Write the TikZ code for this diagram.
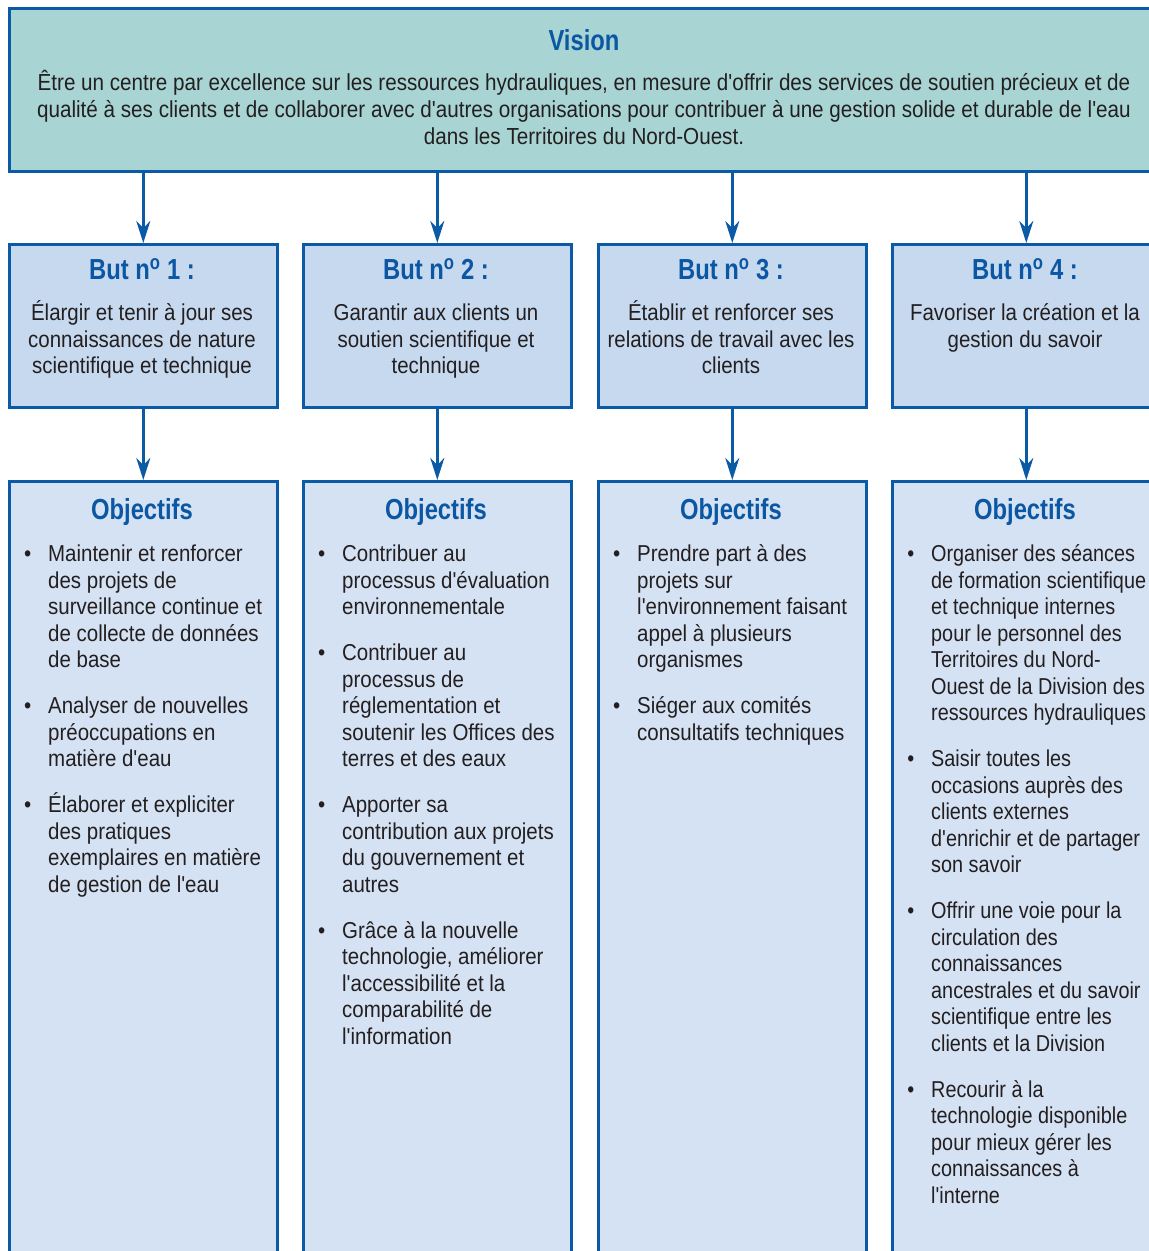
\documentclass[tikz,border=0pt]{standalone}
\usepackage{fontspec}
\setmainfont{Liberation Sans}[Ligatures=TeXOff, FakeStretch=0.89]
\newfontfamily\narrowfont{Liberation Sans}[Ligatures=TeXOff, FakeStretch=0.862]
\newfontfamily\titlefont{Liberation Sans}[UprightFont=* Bold, FakeStretch=0.82]
\usetikzlibrary{arrows.meta}
\definecolor{bordblue}{HTML}{0B5AA6}
\definecolor{titleblue}{HTML}{0B57A3}
\definecolor{txt}{HTML}{231F20}
\definecolor{visfill}{HTML}{A8D4D4}
\definecolor{goalfill}{HTML}{C6D9EF}
\definecolor{objfill}{HTML}{D5E2F3}
\newcommand{\bul}{\llap{\textbullet\hspace{17pt}}}
\newcommand{\fl}{\rule{0pt}{22pt}}
\begin{document}
\begin{tikzpicture}[x=1pt,y=-1pt,
  frame/.style={draw=bordblue, line width=2.6pt, rectangle, anchor=north west, inner sep=0pt},
  goalbox/.style={frame, fill=goalfill, minimum width=268pt, minimum height=163pt},
  objbox/.style={frame, fill=objfill, minimum width=268pt, minimum height=820pt},
  ttl/.style={anchor=base, inner sep=0pt, text=titleblue, font=\titlefont\fontsize{29pt}{32pt}\selectfont},
  body/.style={anchor=north, inner sep=0pt, align=center, text=txt,
    font=\fontsize{23pt}{26.5pt}\selectfont},
  items/.style={anchor=north west, inner sep=0pt, align=left, text=txt,
    font=\fontsize{23pt}{26.5pt}\selectfont},
  arr/.style={draw=bordblue, line width=2.4pt, -{Stealth[length=22pt,width=14pt,inset=7pt]}}
]
\useasboundingbox (0,0) rectangle (1149,1251);
\clip (0,0) rectangle (1149,1251);

% Vision
\node[frame, fill=visfill, minimum width=1152pt, minimum height=163pt] (vision) at (8,7) {};
\node[ttl] (visT) at (584,50) {Vision};
\node[body, font=\fontsize{23.2pt}{27pt}\selectfont] (visB) at (584,68) {\fl Être un centre par excellence sur les ressources hydrauliques, en mesure d'offrir des services de soutien précieux et de\\qualité à ses clients et de collaborer avec d'autres organisations pour contribuer à une gestion solide et durable de l'eau\\dans les Territoires du Nord-Ouest.};

% Goals
\node[goalbox] (g1) at (8,243) {};
\node[goalbox] (g2) at (302,243) {};
\node[goalbox] (g3) at (597,243) {};
\node[goalbox] (g4) at (891,243) {};

\node[ttl] (g1T) at (142,279) {But n\textsuperscript{o} 1 :};
\node[ttl] (g2T) at (436,279) {But n\textsuperscript{o} 2 :};
\node[ttl] (g3T) at (731,279) {But n\textsuperscript{o} 3 :};
\node[ttl] (g4T) at (1025,279) {But n\textsuperscript{o} 4 :};

\node[body] (g1B) at (142,298.5) {\fl Élargir et tenir à jour ses\\connaissances de nature\\scientifique et technique};
\node[body] (g2B) at (436,298.5) {\fl Garantir aux clients un\\soutien scientifique et\\technique};
\node[body] (g3B) at (731,298.5) {\fl Établir et renforcer ses\\relations de travail avec les\\clients};
\node[body] (g4B) at (1025,298.5) {\fl Favoriser la création et la\\gestion du savoir};

% Objectives
\node[objbox] (o1) at (8,480) {};
\node[objbox] (o2) at (302,480) {};
\node[objbox] (o3) at (597,480) {};
\node[objbox] (o4) at (891,480) {};

\node[ttl] (o1T) at (142,519) {Objectifs};
\node[ttl] (o2T) at (436,519) {Objectifs};
\node[ttl] (o3T) at (731,519) {Objectifs};
\node[ttl] (o4T) at (1025,519) {Objectifs};

\node[items] (o1B) at (48,539.5) {\fl\bul Maintenir et renforcer\\des projets de\\surveillance continue et\\de collecte de données\\de base\\[19.5pt]
\bul Analyser de nouvelles\\préoccupations en\\matière d'eau\\[19.5pt]
\bul Élaborer et expliciter\\des pratiques\\exemplaires en matière\\de gestion de l'eau};

\node[items] (o2B) at (342,539.5) {\fl\bul Contribuer au\\processus d'évaluation\\environnementale\\[19.5pt]
\bul Contribuer au\\processus de\\réglementation et\\soutenir les Offices des\\terres et des eaux\\[19.5pt]
\bul Apporter sa\\contribution aux projets\\du gouvernement et\\autres\\[19.5pt]
\bul Grâce à la nouvelle\\technologie, améliorer\\l'accessibilité et la\\comparabilité de\\l'information};

\node[items] (o3B) at (637,539.5) {\fl\bul Prendre part à des\\projets sur\\l'environnement faisant\\appel à plusieurs\\organismes\\[19.5pt]
\bul Siéger aux comités\\consultatifs techniques};

\node[items, font=\narrowfont\fontsize{23pt}{26.5pt}\selectfont] (o4B) at (931,539.5) {\fl\bul Organiser des séances\\de formation scientifique\\et technique internes\\pour le personnel des\\Territoires du Nord-\\Ouest de la Division des\\ressources hydrauliques\\[19.5pt]
\bul Saisir toutes les\\occasions auprès des\\clients externes\\d'enrichir et de partager\\son savoir\\[19.5pt]
\bul Offrir une voie pour la\\circulation des\\connaissances\\ancestrales et du savoir\\scientifique entre les\\clients et la Division\\[19.5pt]
\bul Recourir à la\\technologie disponible\\pour mieux gérer les\\connaissances à\\l'interne};

% Arrows
\foreach \i in {1,2,3,4} {
  \draw[arr] (vision.south -| g\i.north) -- (g\i.north);
  \draw[arr] (g\i.south) -- (o\i.north);
}
\end{tikzpicture}
\end{document}
